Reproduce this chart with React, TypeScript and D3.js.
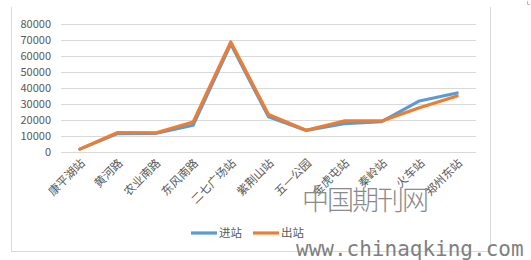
import React from "react";
import * as d3 from "d3";

const stations = ["康平湖站", "黄河路", "农业南路", "东风南路", "二七广场站", "紫荆山站", "五一公园", "金虎屯站", "秦岭站", "火车站", "郑州东站"];
const inbound = [1800, 11500, 11600, 16700, 67500, 22000, 13500, 17700, 19000, 31900, 36900];
const outbound = [1800, 12200, 11900, 18700, 68800, 23400, 13600, 19400, 19400, 27700, 35000];
const yTicks = [0, 10000, 20000, 30000, 40000, 50000, 60000, 70000, 80000];
const seriesNames = ["进站", "出站"];
const seriesColors = ["#5B9BD5", "#ED7D31"];

const W = 531;
const H = 260;
const font = "'Noto Sans CJK SC', 'Noto Sans', sans-serif";

export default function App() {
  const x = d3.scalePoint<string>().domain(stations).range([61, 476]).padding(0.5);
  const y = d3.scaleLinear().domain([0, 80000]).range([152, 24]);
  const line = d3
    .line<number>()
    .x((_, i) => x(stations[i]) as number)
    .y((d) => y(d));
  const series = [inbound, outbound];

  return (
    <svg
      width={W}
      height={H}
      style={{ position: "absolute", left: 0, top: 0, background: "#fff" }}
      fontFamily={font}
    >
      <rect width={W} height={H} fill="#fff" />
      {/* chart frame */}
      <path d="M11.5,7 V251.5 H490.5 V7" fill="none" stroke="#d9d9d9" strokeWidth={1} />
      <path d="M527.5,1 V4.5 H530" fill="none" stroke="#bbb" strokeWidth={1} />

      {/* gridlines and value labels */}
      {yTicks.map((t) => (
        <g key={t}>
          <line x1={61} x2={476} y1={Math.round(y(t)) + 0.5} y2={Math.round(y(t)) + 0.5} stroke="#d9d9d9" strokeWidth={1.2} />
          <text x={51} y={y(t)} dy="0.35em" textAnchor="end" fontSize={11} fill="#595959">
            {t}
          </text>
        </g>
      ))}

      {/* category labels */}
      {stations.map((s) => (
        <text
          key={s}
          transform={`translate(${(x(s) as number) + 3},${161}) rotate(-45)`}
          textAnchor="end"
          dy="0.35em"
          fontSize={11.5}
          fill="#595959"
        >
          {s}
        </text>
      ))}

      {/* series lines */}
      {series.map((vals, k) => (
        <path
          key={k}
          d={line(vals) as string}
          fill="none"
          stroke={seriesColors[k]}
          strokeWidth={3.2}
          strokeLinejoin="round"
          strokeLinecap="round"
        />
      ))}

      {/* legend */}
      {seriesNames.map((n, k) => {
        const lx = 191 + k * 62;
        return (
          <g key={n}>
            <line x1={lx} x2={lx + 26} y1={233} y2={233} stroke={seriesColors[k]} strokeWidth={3.2} />
            <text x={lx + 28} y={233} dy="0.35em" fontSize={11.5} fill="#595959">
              {n}
            </text>
          </g>
        );
      })}

      {/* site marks */}
      <text x={302} y={210} fontSize={27} fill="#8a8a8a" fontWeight={200} letterSpacing={-2}>
        中国期刊网
      </text>
      <text x={296} y={256} fontSize={21} fill="#7f7f7f" fontFamily="'DejaVu Sans Mono', 'Liberation Mono', monospace">
        www.chinaqking.com
      </text>
    </svg>
  );
}
